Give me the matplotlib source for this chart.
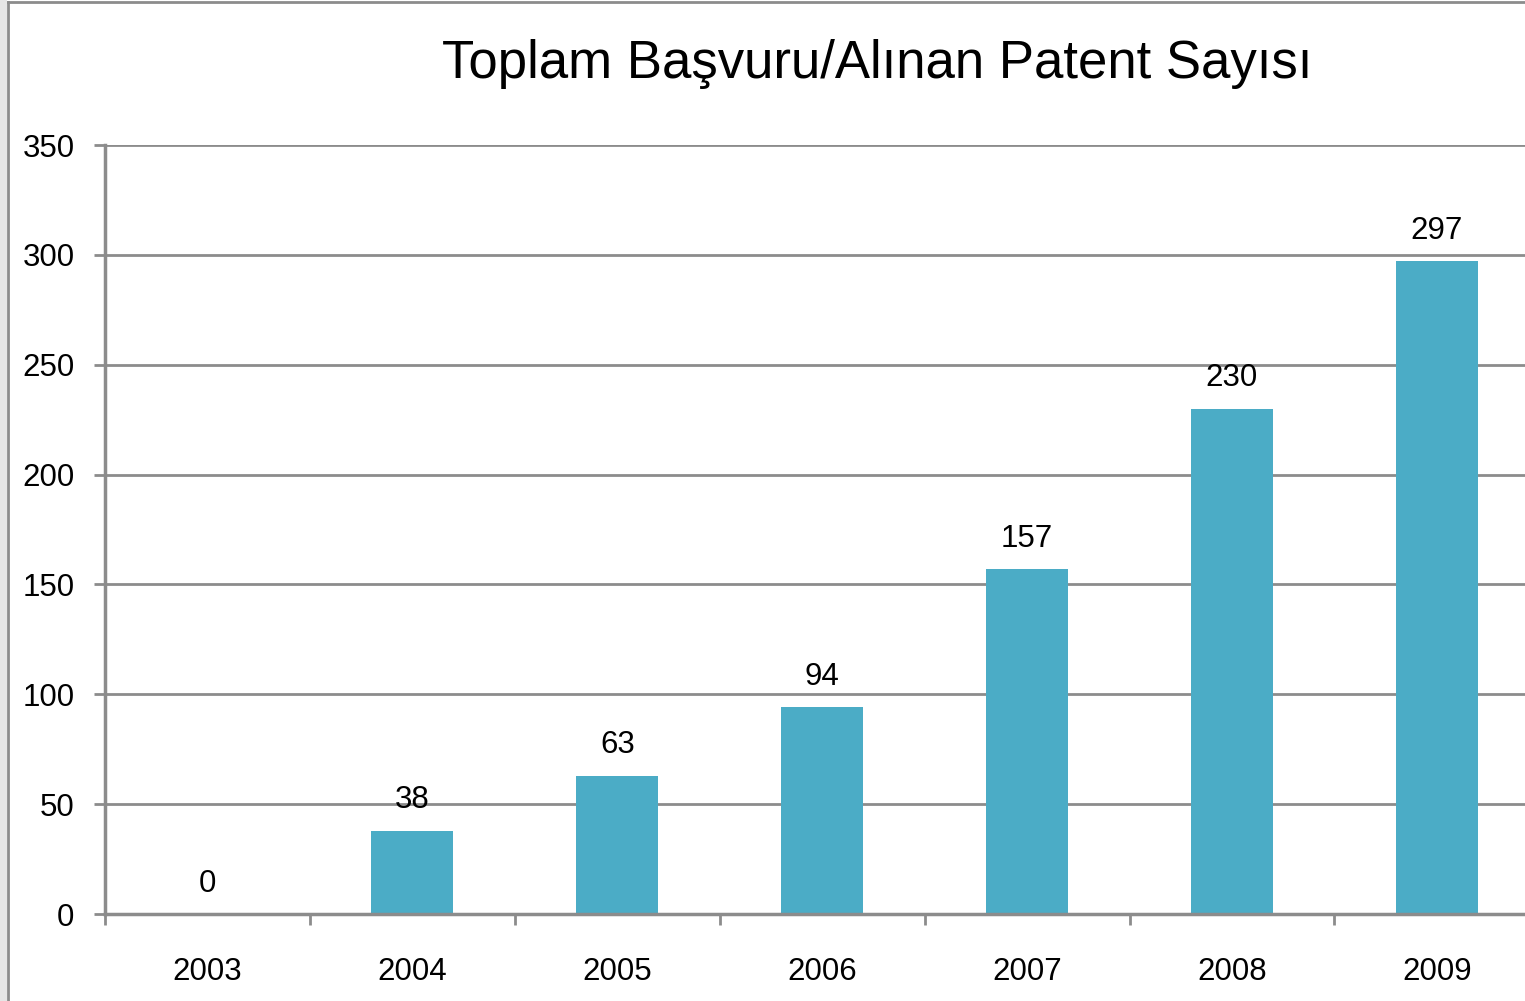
import matplotlib
matplotlib.use("Agg")
import matplotlib.pyplot as plt
from matplotlib.patches import Rectangle
from matplotlib.lines import Line2D

years = ["2003", "2004", "2005", "2006", "2007", "2008", "2009"]
values = [0, 38, 63, 94, 157, 230, 297]
yticks = [0, 50, 100, 150, 200, 250, 300, 350]
title = "Toplam Başvuru/Alınan Patent Sayısı"

W, H = 1525, 1001
fig = plt.figure(figsize=(W / 100, H / 100), dpi=100)
plt.rcParams['font.family'] = ['Liberation Sans', 'DejaVu Sans']

# outer frame (chart area border, light gray strip at left)
fig.patches.append(Rectangle((0, 0), 7 / W, 1, transform=fig.transFigure,
                             facecolor='#e6e6e6', edgecolor='none', zorder=0))
fig.lines.append(Line2D([7.5 / W, 7.5 / W], [0, 1 - 2 / H], transform=fig.transFigure,
                        color='#8c8c8c', lw=2))
fig.lines.append(Line2D([7.5 / W, 1], [1 - 2 / H, 1 - 2 / H], transform=fig.transFigure,
                        color='#8c8c8c', lw=2))

left = 105 / W
width = 7 * 204.9 / W
bottom = (H - 914) / H
height = (914 - 145) / H
ax = fig.add_axes([left, bottom, width, height])

x = list(range(len(years)))
ax.bar(x, values, width=0.40, color='#4BACC6', zorder=3)
ax.set_xlim(-0.5, len(years) - 0.5)
ax.set_ylim(0, 350)
ax.set_yticks(yticks)
ax.set_yticklabels([str(t) for t in yticks], fontsize=22.5)
ax.set_xticks(x)
ax.set_xticklabels(years, fontsize=22.5)
ax.tick_params(axis='x', length=0, pad=31)
ax.set_xticks([i - 0.5 for i in range(len(years) + 1)], minor=True)
ax.tick_params(axis='x', which='minor', length=8, width=2, color='#8c8c8c', direction='out')
ax.tick_params(axis='y', length=8, width=2, color='#8c8c8c', pad=14)

ax.grid(axis='y', color='#8c8c8c', lw=2, zorder=1)
ax.set_axisbelow(True)
for s in ['top', 'right']:
    ax.spines[s].set_visible(False)
for s in ['left', 'bottom']:
    ax.spines[s].set_color('#8c8c8c')
    ax.spines[s].set_linewidth(2.5)
    ax.spines[s].set_zorder(4)

for xi, v in zip(x, values):
    ax.annotate(str(v), (xi, v), xytext=(0, 11), textcoords='offset points',
                ha='center', va='bottom', fontsize=22.5)

fig.text(877 / W, 1 - 64 / H, title, ha='center', va='center', fontsize=38)

fig.savefig("out.png", dpi=100)
